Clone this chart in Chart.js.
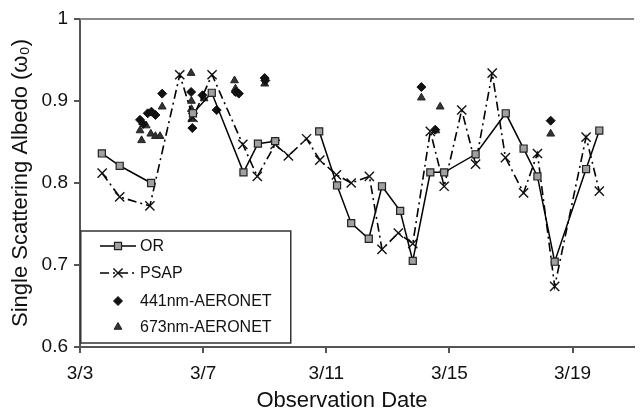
<!DOCTYPE html>
<html>
<head>
<meta charset="utf-8">
<script src="https://cdn.jsdelivr.net/npm/chart.js@4.4.1/dist/chart.umd.min.js"></script>
<style>
  html, body { margin: 0; padding: 0; background: #fff; }
  #wrap { width: 642px; height: 417px; position: relative; }
</style>
</head>
<body>
<div id="wrap"><canvas id="c" width="642" height="417"></canvas></div>
<script>
// Day-of-March positions and values
const orDays   = [3.71, 4.29, 5.31, null, 6.67, 7.28, 8.31, 8.78, 9.34, null, 10.77, 11.35, 11.81, 12.38, 12.81, 13.40, 13.81, 14.38, 14.83, 15.85, 16.83, 17.41, 17.86, 18.42, 19.44, 19.87];
const orValues = [0.836, 0.821, 0.800, null, 0.885, 0.910, 0.813, 0.848, 0.851, null, 0.863, 0.797, 0.751, 0.732, 0.796, 0.766, 0.705, 0.813, 0.813, 0.835, 0.885, 0.842, 0.808, 0.704, 0.817, 0.864];

const psapDays   = [3.72, 4.29, 5.27, 6.24, 6.67, 7.29, 8.29, 8.76, 9.34, 9.77, 10.36, 10.79, 11.33, 11.81, 12.40, 12.81, 13.34, 13.81, 14.38, 14.83, 15.40, 15.85, 16.39, 16.82, 17.41, 17.86, 18.42, 19.44, 19.87];
const psapValues = [0.812, 0.783, 0.772, 0.932, 0.880, 0.932, 0.847, 0.808, 0.847, 0.833, 0.854, 0.828, 0.810, 0.800, 0.808, 0.719, 0.739, 0.726, 0.863, 0.796, 0.889, 0.823, 0.934, 0.831, 0.788, 0.836, 0.674, 0.856, 0.790];

const a441Days   = [4.95, 5.05, 5.20, 5.32, 5.45, 5.67, 6.61, 6.65, 6.98, 7.44, 8.06, 8.16, 9.00, 9.02, 14.09, 14.54, 18.29];
const a441Values = [0.877, 0.872, 0.885, 0.887, 0.883, 0.909, 0.911, 0.867, 0.907, 0.889, 0.911, 0.909, 0.928, 0.925, 0.917, 0.865, 0.876];

const a673Days   = [4.95, 5.00, 5.15, 5.30, 5.45, 5.60, 5.67, 6.61, 6.62, 6.62, 6.63, 7.03, 8.02, 8.05, 8.12, 9.00, 14.09, 14.70, 14.56, 18.29];
const a673Values = [0.864, 0.852, 0.870, 0.860, 0.857, 0.857, 0.893, 0.934, 0.900, 0.890, 0.878, 0.903, 0.925, 0.915, 0.910, 0.921, 0.904, 0.893, 0.864, 0.860];

const xTickDays = [3, 7, 11, 15, 19];
const yTicks = [0.6, 0.7, 0.8, 0.9, 1];
const seriesNames = ['OR', 'PSAP', '441nm-AERONET', '673nm-AERONET'];
const xTitle = 'Observation Date';
const yTitle = 'Single Scattering Albedo (\u03c9\u2080)';

function ptsGap(xs, ys) {
  const out = [];
  for (let i = 0; i < xs.length; i++) {
    if (xs[i] === null) { out.push({ x: (xs[i-1] + xs[i+1]) / 2, y: null }); }
    else out.push({ x: xs[i], y: ys[i] });
  }
  return out;
}

const FONT = '"Liberation Sans", Arial, sans-serif';
const AX = '#555';

const legendPlugin = {
  id: 'boxLegend',
  afterDatasetsDraw(chart) {
    const ctx = chart.ctx, ca = chart.chartArea;
    const x0 = ca.left, y0 = 231, w = 210, h = 112;
    ctx.save();
    ctx.fillStyle = '#fff';
    ctx.fillRect(x0, y0, w, h);
    ctx.strokeStyle = '#333';
    ctx.lineWidth = 1.5;
    ctx.strokeRect(x0 + 0.75, y0, w, h);
    const rows = [15, 42, 70, 96];
    ctx.font = '16px ' + FONT;
    ctx.textBaseline = 'middle';
    chart.data.datasets.forEach((ds, i) => {
      const cy = y0 + rows[i];
      const mx = x0 + 38;
      ctx.strokeStyle = '#000';
      ctx.lineWidth = 1.5;
      if (ds.showLine) {
        ctx.setLineDash(ds.borderDash || []);
        ctx.beginPath();
        ctx.moveTo(x0 + 20, cy); ctx.lineTo(x0 + 56, cy);
        ctx.stroke();
        ctx.setLineDash([]);
      }
      ctx.fillStyle = ds.pointBackgroundColor;
      ctx.strokeStyle = ds.pointBorderColor;
      ctx.lineWidth = ds.pointBorderWidth;
      Chart.helpers.drawPoint(ctx, { pointStyle: ds.pointStyle, radius: ds.pointRadius, rotation: 0, borderWidth: ds.pointBorderWidth }, mx, cy);
      ctx.fillStyle = '#111';
      ctx.fillText(ds.label, x0 + 60, cy + 1);
    });
    ctx.restore();
  },
  afterDraw(chart) {
    const ctx = chart.ctx, ca = chart.chartArea;
    ctx.save();
    ctx.strokeStyle = '#888';
    ctx.lineWidth = 2;
    ctx.beginPath();
    ctx.moveTo(ca.left, ca.top); ctx.lineTo(ca.right, ca.top);
    ctx.stroke();
    ctx.fillStyle = '#111';
    ctx.font = '22px ' + FONT;
    ctx.textAlign = 'center';
    ctx.textBaseline = 'middle';
    ctx.fillText(xTitle, 342, 401);
    ctx.restore();
  }
};

new Chart(document.getElementById('c'), {
  type: 'scatter',
  data: {
    datasets: [
      {
        label: seriesNames[0], data: ptsGap(orDays, orValues), showLine: true, spanGaps: false,
        borderColor: '#000', borderWidth: 1.5,
        pointStyle: 'rect', pointRadius: 5, pointBackgroundColor: '#a0a0a0', pointBorderColor: '#222', pointBorderWidth: 1.2,
        order: 1
      },
      {
        label: seriesNames[1], data: ptsGap(psapDays, psapValues), showLine: true,
        borderColor: '#000', borderWidth: 1.6, borderDash: [9, 4, 2, 4],
        pointStyle: 'crossRot', pointRadius: 6.5, pointBackgroundColor: '#000', pointBorderColor: '#111', pointBorderWidth: 1.4,
        order: 2
      },
      {
        label: seriesNames[2], data: ptsGap(a441Days, a441Values), showLine: false,
        pointStyle: 'rectRot', pointRadius: 4.5, pointBackgroundColor: '#111', pointBorderColor: '#111', pointBorderWidth: 1,
        order: 3
      },
      {
        label: seriesNames[3], data: ptsGap(a673Days, a673Values), showLine: false,
        pointStyle: 'triangle', pointRadius: 4.5, pointBackgroundColor: '#333', pointBorderColor: '#222', pointBorderWidth: 1,
        order: 4
      }
    ]
  },
  options: {
    responsive: false,
    animation: false,
    events: [],
    layout: { padding: { top: 19, right: 0, left: 0, bottom: 0 } },
    plugins: { legend: { display: false }, tooltip: { enabled: false } },
    scales: {
      x: {
        type: 'linear', min: 3, max: 21,
        afterFit(s) { s.height = 70; },
        afterBuildTicks(s) { s.ticks = xTickDays.map(v => ({ value: v })); },
        ticks: { callback: v => '3/' + v, color: '#111', font: { family: FONT, size: 19 }, padding: 9, maxRotation: 0, autoSkip: false },
        grid: { display: true, drawOnChartArea: false, drawTicks: true, tickLength: 6, color: AX, lineWidth: 2 },
        border: { display: true, color: AX, width: 2 }
      },
      y: {
        min: 0.6, max: 1,
        afterFit(s) { s.width = 80; },
        afterBuildTicks(s) { s.ticks = yTicks.map(v => ({ value: v })); },
        ticks: { callback: v => (v === 1 ? '1' : v.toFixed(1)), color: '#111', font: { family: FONT, size: 19 }, padding: 6 },
        title: { display: true, text: yTitle, color: '#111', font: { family: FONT, size: 22 }, padding: { top: 8, bottom: 2 } },
        grid: { display: true, drawOnChartArea: false, drawTicks: true, tickLength: 6, color: AX, lineWidth: 2 },
        border: { display: true, color: AX, width: 2 }
      }
    }
  },
  plugins: [legendPlugin]
});
</script>
</body>
</html>
